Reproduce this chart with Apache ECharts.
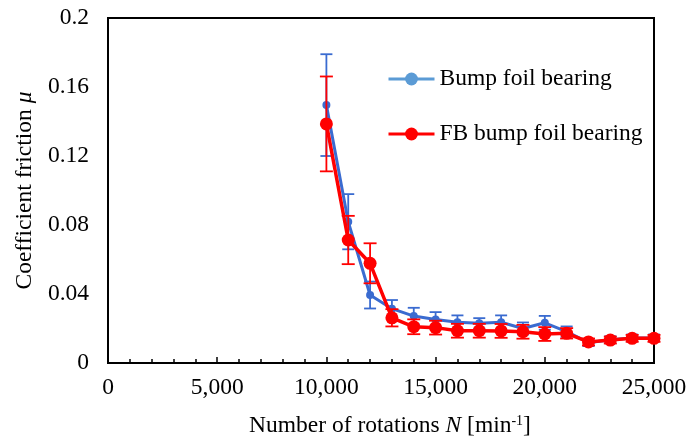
<!DOCTYPE html>
<html>
<head>
<meta charset="utf-8">
<script src="https://cdn.jsdelivr.net/npm/echarts@6/dist/echarts.min.js"></script>
<style>
html,body{margin:0;padding:0;background:#fff;}
#chart{width:687px;height:437px;}
</style>
</head>
<body>
<div id="chart"></div>
<script>
var rpm = [10000, 11000, 12000, 13000, 14000, 15000, 16000, 17000, 18000, 19000, 20000, 21000, 22000, 23000, 24000, 25000];
var bumpMu = [0.1495, 0.0819, 0.0394, 0.0315, 0.0272, 0.0252, 0.0236, 0.0230, 0.0236, 0.0200, 0.0233, 0.0182, 0.0118, 0.0135, 0.0145, 0.0145];
var bumpErr = [0.0295, 0.016, 0.0078, 0.005, 0.0048, 0.0043, 0.004, 0.003, 0.004, 0.0035, 0.004, 0.003, 0.002, 0.002, 0.002, 0.002];
var fbMu = [0.1386, 0.0713, 0.0578, 0.0262, 0.0210, 0.0205, 0.0187, 0.0187, 0.0186, 0.0181, 0.0168, 0.0172, 0.0122, 0.0133, 0.0143, 0.0143];
var fbErr = [0.0275, 0.014, 0.0116, 0.005, 0.0043, 0.004, 0.004, 0.004, 0.004, 0.004, 0.004, 0.003, 0.002, 0.002, 0.002, 0.002];
var seriesNames = ['Bump foil bearing', 'FB bump foil bearing'];

var blue = '#3A6BD0';
var red = '#FF0000';
var font = '"Liberation Serif", "Times New Roman", serif';
var fs = 23.5;

function pairs(xs, ys) { return xs.map(function (x, i) { return [x, ys[i]]; }); }
function errData(xs, ys, es) { return xs.map(function (x, i) { return [x, ys[i] - es[i], ys[i] + es[i]]; }); }

function errRender(color, cap, lw) {
  return function (params, api) {
    var lo = api.coord([api.value(0), api.value(1)]);
    var hi = api.coord([api.value(0), api.value(2)]);
    var st = { stroke: color, lineWidth: lw };
    return {
      type: 'group',
      children: [
        { type: 'line', shape: { x1: lo[0], y1: lo[1], x2: hi[0], y2: hi[1] }, style: st },
        { type: 'line', shape: { x1: lo[0] - cap, y1: lo[1], x2: lo[0] + cap, y2: lo[1] }, style: st },
        { type: 'line', shape: { x1: hi[0] - cap, y1: hi[1], x2: hi[0] + cap, y2: hi[1] }, style: st }
      ]
    };
  };
}

var chart = echarts.init(document.getElementById('chart'));
chart.setOption({
  animation: false,
  backgroundColor: '#fff',
  grid: {
    left: 108, right: 33, top: 18, bottom: 74,
    containLabel: false, outerBoundsMode: 'none',
    show: true, borderColor: '#000', borderWidth: 2
  },
  legend: {
    orient: 'vertical',
    left: 382,
    top: 62,
    itemGap: 31,
    itemWidth: 46,
    itemHeight: 16,
    textStyle: { fontFamily: font, fontSize: fs, color: '#000' },
    data: [
      { name: seriesNames[0], itemStyle: { color: '#5B9BD5' }, lineStyle: { color: '#5B9BD5', width: 3 } },
      { name: seriesNames[1], itemStyle: { color: red }, lineStyle: { color: red, width: 3 } }
    ]
  },
  xAxis: {
    type: 'value',
    min: 0, max: 25000, interval: 5000,
    name: '{t|Number of rotations }{i|N}{t| [min}{s|-1}{t|]}',
    nameLocation: 'middle',
    nameGap: 51,
    nameTextStyle: {
      padding: [0, 0, 0, 18],
      rich: {
        t: { fontFamily: font, fontSize: fs, color: '#000' },
        i: { fontFamily: font, fontSize: fs, fontStyle: 'italic', color: '#000' },
        s: { fontFamily: font, fontSize: 14, color: '#000', verticalAlign: 'top', padding: [0, 0, 10, 0] }
      }
    },
    axisLine: { lineStyle: { color: '#000', width: 2 } },
    axisTick: { show: true, inside: true, length: 6, lineStyle: { color: '#000', width: 1.5 } },
    minorTick: { show: true, splitNumber: 5, length: 4, lineStyle: { color: '#000', width: 1.5 } },
    splitLine: { show: false },
    axisLabel: {
      margin: 13, fontFamily: font, fontSize: fs, color: '#000',
      formatter: function (v) { return v === 0 ? '0' : v.toLocaleString('en-US'); }
    }
  },
  yAxis: {
    type: 'value',
    min: 0, max: 0.2, interval: 0.04,
    name: '{t|Coefficient friction }{i|μ}',
    nameLocation: 'middle',
    nameGap: 66,
    nameRotate: 90,
    nameTextStyle: {
      rich: {
        t: { fontFamily: font, fontSize: fs, color: '#000' },
        i: { fontFamily: font, fontSize: fs, fontStyle: 'italic', color: '#000' }
      }
    },
    axisLine: { show: true, lineStyle: { color: '#000', width: 2 } },
    axisTick: { show: false },
    splitLine: { show: false },
    axisLabel: {
      margin: 19, fontFamily: font, fontSize: fs, color: '#000',
      formatter: function (v) { return String(parseFloat(v.toFixed(2))); }
    }
  },
  series: [
    {
      name: 'bumpErr', type: 'custom', z: 2,
      renderItem: errRender(blue, 6, 1.8),
      encode: { x: 0, y: [1, 2] },
      data: errData(rpm, bumpMu, bumpErr)
    },
    {
      name: seriesNames[0], type: 'line', z: 3,
      data: pairs(rpm, bumpMu),
      symbol: 'circle', symbolSize: 8,
      lineStyle: { color: blue, width: 3 },
      itemStyle: { color: blue }
    },
    {
      name: 'fbErr', type: 'custom', z: 4,
      renderItem: errRender(red, 6.5, 1.8),
      encode: { x: 0, y: [1, 2] },
      data: errData(rpm, fbMu, fbErr)
    },
    {
      name: seriesNames[1], type: 'line', z: 5,
      data: pairs(rpm, fbMu),
      symbol: 'circle', symbolSize: 13,
      lineStyle: { color: red, width: 3.5 },
      itemStyle: { color: red }
    }
  ]
});
</script>
</body>
</html>
